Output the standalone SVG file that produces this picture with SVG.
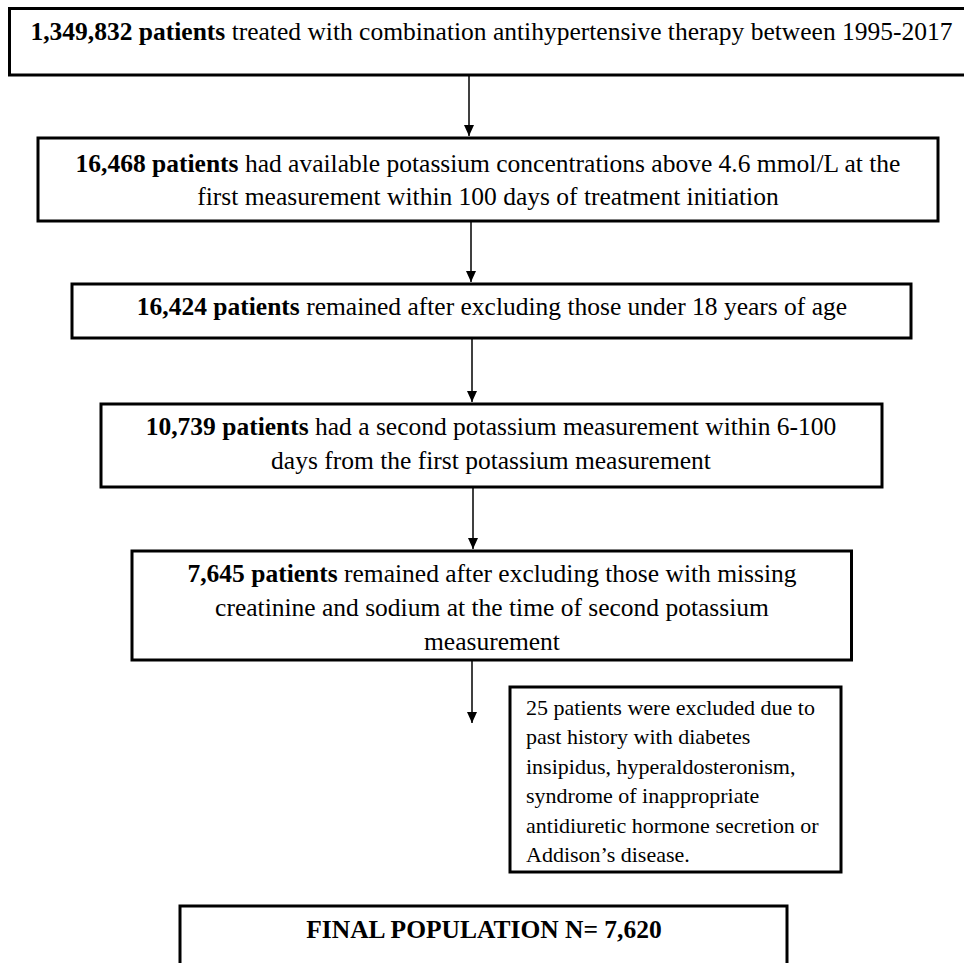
<svg xmlns="http://www.w3.org/2000/svg" width="964" height="963" viewBox="0 0 964 963">
<style>
.box{fill:#fff;stroke:#000;stroke-width:3}
.t{font-family:"Liberation Serif","Times New Roman",serif;font-size:25.5px;fill:#000;text-anchor:middle}
.b{font-weight:bold}
.s{font-family:"Liberation Serif","Times New Roman",serif;font-size:22px;fill:#000}
.c{stroke:#000;stroke-width:1.5;fill:none;marker-end:url(#ah)}
</style>
<defs>
<marker id="ah" markerUnits="userSpaceOnUse" markerWidth="12" markerHeight="10" refX="11" refY="5" orient="auto">
<path d="M0,0 L11,5 L0,10 z" fill="#000"/>
</marker>
</defs>
<rect width="964" height="963" fill="#fff"/>
<g id="connectors">
<line class="c" x1="469" y1="76" x2="469" y2="136"/>
<line class="c" x1="471" y1="222" x2="471" y2="282"/>
<line class="c" x1="472" y1="339" x2="472" y2="402"/>
<line class="c" x1="473" y1="488" x2="473" y2="549"/>
<line class="c" x1="472" y1="661" x2="472" y2="723"/>
</g>
<g id="n1">
<rect class="box" x="9.5" y="8.5" width="964" height="66.5"/>
<text class="t" x="491.5" y="40"><tspan class="b">1,349,832 patients</tspan> treated with combination antihypertensive therapy between 1995-2017</text>
</g>
<g id="n2">
<rect class="box" x="38" y="138" width="900" height="83"/>
<text class="t" x="488" y="172"><tspan class="b">16,468 patients</tspan> had available potassium concentrations above 4.6 mmol/L at the</text>
<text class="t" x="488" y="205">first measurement within 100 days of treatment initiation</text>
</g>
<g id="n3">
<rect class="box" x="72" y="284" width="839" height="54"/>
<text class="t" x="492" y="315"><tspan class="b">16,424 patients</tspan> remained after excluding those under 18 years of age</text>
</g>
<g id="n4">
<rect class="box" x="101" y="404" width="781" height="83"/>
<text class="t" x="491" y="435"><tspan class="b">10,739 patients</tspan> had a second potassium measurement within 6-100</text>
<text class="t" x="491" y="469">days from the first potassium measurement</text>
</g>
<g id="n5">
<rect class="box" x="132" y="551" width="719.5" height="109"/>
<text class="t" x="492" y="582"><tspan class="b">7,645 patients</tspan> remained after excluding those with missing</text>
<text class="t" x="492" y="616">creatinine and sodium at the time of second potassium</text>
<text class="t" x="492" y="650">measurement</text>
</g>
<g id="n6">
<rect class="box" x="510" y="687" width="331" height="185"/>
<text class="s" x="526" y="715">25 patients were excluded due to</text>
<text class="s" x="526" y="744.4">past history with diabetes</text>
<text class="s" x="526" y="773.8">insipidus, hyperaldosteronism,</text>
<text class="s" x="526" y="803.2">syndrome of inappropriate</text>
<text class="s" x="526" y="832.6">antidiuretic hormone secretion or</text>
<text class="s" x="526" y="862">Addison’s disease.</text>
</g>
<g id="n7">
<rect class="box" x="180" y="906" width="607" height="80"/>
<text class="t b" x="484" y="938">FINAL POPULATION N= 7,620</text>
</g>
</svg>
